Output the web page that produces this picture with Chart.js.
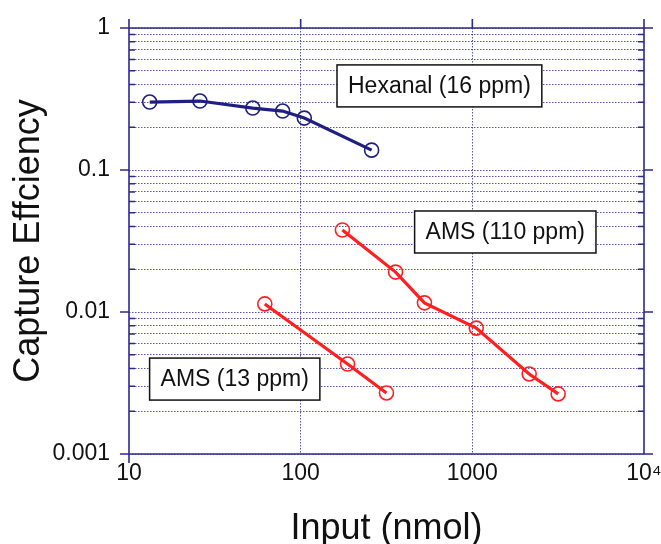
<!DOCTYPE html>
<html>
<head>
<meta charset="utf-8">
<script src="https://cdn.jsdelivr.net/npm/chart.js@4"></script>
<style>
  html, body { margin: 0; padding: 0; background: #ffffff; }
  #wrap { width: 661px; height: 544px; }
</style>
</head>
<body>
<div id="wrap"><canvas id="c" width="661" height="544"></canvas></div>
<script>
// ---- data ----
const hexanalX = [13.2, 25.9, 52.6, 78.5, 105, 259];
const hexanalY = [0.301, 0.306, 0.273, 0.260, 0.232, 0.138];
const ams110X = [175, 357, 526, 1054, 2143, 3162];
const ams110Y = [0.0378, 0.0191, 0.0116, 0.0077, 0.00366, 0.00265];
const ams13X = [61.8, 187.5, 316];
const ams13Y = [0.0114, 0.0043, 0.00269];

const xTickValues = [10, 100, 1000, 10000];
const xTickLabels = ['10', '100', '1000', '10\u2074'];
const yTickValues = [0.001, 0.01, 0.1, 1];
const yTickLabels = ['0.001', '0.01', '0.1', '1'];
const yMinorMultipliers = [2, 3, 4, 5, 6, 7, 8, 9];

const boxTexts = ['Hexanal (16 ppm)', 'AMS (110 ppm)', 'AMS (13 ppm)'];
const boxX = [643, 1556, 41.3];
const boxY = [0.391, 0.0366, 0.00337];

const xTitle = 'Input (nmol)';
const yTitle = 'Capture Effciency';

// ---- styles ----
const NAVY = '#1f1f82';
const RED = '#ff1f1f';
const FRAME = '#2e2a8c';
const GRID = 'rgba(60,55,150,0.85)';
const FONT = "'Liberation Sans', Arial, sans-serif";

function pts(xs, ys) { return xs.map((x, i) => ({ x: x, y: ys[i] })); }

// all y ticks (decades + minors)
const yAllTicks = [];
for (let d = 0; d < yTickValues.length; d++) {
  yAllTicks.push(yTickValues[d]);
  if (d < yTickValues.length - 1) {
    yMinorMultipliers.forEach(m => yAllTicks.push(Number((m * yTickValues[d]).toPrecision(3))));
  }
}
function isDecadeY(v) { return yTickValues.some(t => Math.abs(Math.log10(t) - Math.log10(v)) < 1e-6); }

const framePlugin = {
  id: 'frame',
  afterDatasetsDraw(chart) {
    const ctx = chart.ctx;
    const xs = chart.scales.x, ys = chart.scales.y;
    const L = xs.getPixelForValue(xTickValues[0]);
    const R = xs.getPixelForValue(xTickValues[xTickValues.length - 1]);
    const T = ys.getPixelForValue(yTickValues[yTickValues.length - 1]);
    const B = ys.getPixelForValue(yTickValues[0]);
    const ext = 9, minor = 6;
    ctx.save();
    ctx.strokeStyle = FRAME;
    ctx.lineWidth = 1.6;
    ctx.setLineDash([]);
    ctx.beginPath();
    // frame lines overshooting corners
    ctx.moveTo(L - ext, T); ctx.lineTo(R + ext, T);
    ctx.moveTo(L - ext, B); ctx.lineTo(R, B);
    ctx.moveTo(L, T - ext); ctx.lineTo(L, B + ext);
    ctx.moveTo(R, T - ext); ctx.lineTo(R, B);
    // major ticks on y (left & right outward)
    yTickValues.forEach(v => {
      const y = ys.getPixelForValue(v);
      ctx.moveTo(L - ext, y); ctx.lineTo(L, y);
      ctx.moveTo(R, y); ctx.lineTo(R + ext, y);
    });
    // major ticks on top (upward)
    xTickValues.forEach(v => {
      const x = xs.getPixelForValue(v);
      ctx.moveTo(x, T - ext); ctx.lineTo(x, T);
    });
    ctx.stroke();
    // minor inward ticks left & right
    ctx.beginPath();
    yAllTicks.forEach(v => {
      if (isDecadeY(v)) return;
      const y = ys.getPixelForValue(v);
      ctx.moveTo(L, y); ctx.lineTo(L + minor, y);
      ctx.moveTo(R - minor, y); ctx.lineTo(R, y);
    });
    ctx.stroke();

    // label boxes
    ctx.font = '23px ' + FONT;
    ctx.textAlign = 'center';
    ctx.textBaseline = 'middle';
    boxTexts.forEach((t, i) => {
      const cx = xs.getPixelForValue(boxX[i]);
      const cy = ys.getPixelForValue(boxY[i]);
      const w = ctx.measureText(t).width + 22;
      const h = 42;
      ctx.fillStyle = '#ffffff';
      ctx.fillRect(cx - w / 2, cy - h / 2, w, h);
      ctx.strokeStyle = '#111111';
      ctx.lineWidth = 1.5;
      ctx.strokeRect(cx - w / 2, cy - h / 2, w, h);
      ctx.fillStyle = '#111111';
      ctx.fillText(t, cx, cy + 1);
    });
    ctx.restore();
  }
};

const seriesStyle = (color) => ({
  showLine: true,
  borderColor: color,
  backgroundColor: 'rgba(0,0,0,0)',
  borderWidth: 3.2,
  pointRadius: 7,
  pointHoverRadius: 7,
  pointBorderWidth: 1.6,
  pointBorderColor: color,
  pointBackgroundColor: 'rgba(0,0,0,0)',
  pointStyle: 'circle',
  tension: 0
});

new Chart(document.getElementById('c'), {
  type: 'scatter',
  data: {
    datasets: [
      Object.assign({ label: 'Hexanal (16 ppm)', data: pts(hexanalX, hexanalY) }, seriesStyle(NAVY)),
      Object.assign({ label: 'AMS (110 ppm)', data: pts(ams110X, ams110Y) }, seriesStyle(RED)),
      Object.assign({ label: 'AMS (13 ppm)', data: pts(ams13X, ams13Y) }, seriesStyle(RED))
    ]
  },
  options: {
    responsive: false,
    animation: false,
    devicePixelRatio: 1,
    layout: { padding: { top: 28, right: 17, left: 0, bottom: 0 } },
    plugins: { legend: { display: false }, tooltip: { enabled: false } },
    scales: {
      x: {
        type: 'logarithmic',
        min: xTickValues[0],
        max: xTickValues[xTickValues.length - 1],
        afterBuildTicks: (s) => { s.ticks = xTickValues.map(v => ({ value: v })); },
        afterFit: (s) => { s.height = 90; s.paddingLeft = 0; s.paddingRight = 0; },
        grid: {
          drawTicks: false,
          color: (c) => (c.index === 0 || c.index === xTickValues.length - 1) ? 'rgba(0,0,0,0)' : GRID,
          lineWidth: 1
        },
        border: { display: false, dash: [1.5, 1.5] },
        ticks: {
          autoSkip: false,
          maxRotation: 0,
          padding: 6,
          color: '#111111',
          font: { family: FONT, size: 23 },
          callback: (v) => { const i = xTickValues.indexOf(v); return i >= 0 ? xTickLabels[i] : ''; }
        },
        title: {
          display: true,
          text: xTitle,
          color: '#111111',
          font: { family: FONT, size: 36, lineHeight: 1 },
          padding: { top: 0, bottom: -3 }
        }
      },
      y: {
        type: 'logarithmic',
        min: yTickValues[0],
        max: yTickValues[yTickValues.length - 1],
        afterBuildTicks: (s) => { s.ticks = yAllTicks.map(v => ({ value: v })); },
        afterFit: (s) => { s.width = 129; s.paddingTop = 0; s.paddingBottom = 0; },
        grid: {
          drawTicks: false,
          color: GRID,
          lineWidth: 1
        },
        border: { display: false, dash: [1.5, 1.5] },
        ticks: {
          autoSkip: false,
          padding: 19,
          color: '#111111',
          font: { family: FONT, size: 23 },
          callback: (v) => {
            for (let i = 0; i < yTickValues.length; i++) {
              if (Math.abs(Math.log10(yTickValues[i]) - Math.log10(v)) < 1e-6) return yTickLabels[i];
            }
            return '';
          }
        },
        title: {
          display: true,
          text: yTitle,
          color: '#111111',
          font: { family: FONT, size: 36, lineHeight: 1 },
          padding: { top: 11, bottom: 0 }
        }
      }
    }
  },
  plugins: [framePlugin]
});
</script>
</body>
</html>
